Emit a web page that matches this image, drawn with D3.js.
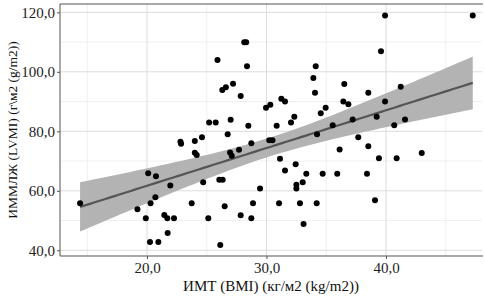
<!DOCTYPE html>
<html><head><meta charset="utf-8">
<script src="https://cdn.jsdelivr.net/npm/d3@7"></script>
<style>body{margin:0;background:#fff}svg{display:block}</style>
</head><body><svg id="c" width="485" height="297"></svg>
<script>
const bmi = [14.4,19.2,19.9,20.1,20.3,20.25,20.7,20.75,20.95,21.45,21.7,21.73,21.95,22.26,22.8,22.85,23.74,24.0,24.0,24.16,
24.6,24.7,25.13,25.2,25.75,25.9,26.05,26.13,26.3,26.33,26.5,26.6,26.75,26.95,27.0,27.09,27.2,27.7,27.84,27.84,
28.14,28.3,28.37,28.48,28.73,28.73,28.87,29.46,29.96,30.23,30.32,30.5,30.85,31.05,31.13,31.24,31.55,31.55,32.05,32.33,
32.44,32.5,32.5,32.8,33.03,33.1,33.33,33.92,34.06,34.12,34.2,34.23,34.54,34.7,34.95,35.54,35.92,36.12,36.43,36.51,
36.85,37.21,37.68,38.41,38.52,38.52,39.08,39.22,39.41,39.58,39.92,39.92,40.69,40.89,41.23,41.59,42.99,47.26];
const lvmi = [55.8,53.8,50.8,65.9,55.8,42.8,57.8,64.9,42.8,51.9,50.8,45.8,61.8,50.8,76.5,75.8,55.8,76.7,72.8,72.0,
78.0,62.9,50.8,83.0,83.0,104.0,63.7,41.8,93.9,63.7,54.8,94.8,79.0,72.9,83.9,71.8,96.0,73.8,91.9,51.8,
109.9,109.9,101.9,81.9,76.0,50.8,55.8,60.8,87.9,77.0,88.9,77.0,81.9,55.8,70.8,90.9,90.0,66.8,83.0,84.9,
68.9,62.0,60.8,55.8,62.9,48.8,65.7,97.9,93.0,101.9,55.8,79.0,86.1,65.7,87.9,82.0,65.7,73.9,90.0,95.9,
89.1,84.0,78.0,65.7,93.0,75.0,56.8,84.9,70.9,106.9,118.9,90.0,82.0,70.9,95.0,84.0,72.7,118.9];
const xTicks = [20,30,40];
const yTicks = [40,60,80,100,120];
const xMinor = [15,25,35,45];
const yMinor = [50,70,90,110];
const xTitle = "ИМТ (BMI) (кг/м2 (kg/m2))";
const yTitle = "ИММЛЖ (LVMI) (г\\м2 (g/m2))";

const L=60, R=482, T=4, B=256;
const x = d3.scaleLinear().domain([20,40]).range([147,386]);
const y = d3.scaleLinear().domain([40,120]).range([250.3,12.3]);
const svg = d3.select("#c");
const fmt = d => d.toFixed(1).replace(".", ",");
const font = "'Liberation Serif','Times New Roman',serif";

// grid
const g = svg.append("g");
g.selectAll(".xm").data(xMinor).join("line").attr("x1",d=>x(d)).attr("x2",d=>x(d)).attr("y1",T).attr("y2",B).attr("stroke","#f0f0f0");
g.selectAll(".ym").data(yMinor).join("line").attr("y1",d=>y(d)).attr("y2",d=>y(d)).attr("x1",L).attr("x2",R).attr("stroke","#f0f0f0");
g.selectAll(".xM").data(xTicks).join("line").attr("x1",d=>x(d)).attr("x2",d=>x(d)).attr("y1",T).attr("y2",B).attr("stroke","#dcdcdc");
g.selectAll(".yM").data(yTicks).join("line").attr("y1",d=>y(d)).attr("y2",d=>y(d)).attr("x1",L).attr("x2",R).attr("stroke","#dcdcdc");

// regression + CI
const n = bmi.length, xb = d3.mean(bmi), yb = d3.mean(lvmi);
let sxx=0, sxy=0;
for (let i=0;i<n;i++){ sxx+=(bmi[i]-xb)**2; sxy+=(bmi[i]-xb)*(lvmi[i]-yb); }
const b = sxy/sxx, a = yb - b*xb;
let sse=0; for (let i=0;i<n;i++) sse += (lvmi[i]-a-b*bmi[i])**2;
const s = Math.sqrt(sse/(n-2)), tq = 1.985;
const [x0,x1] = d3.extent(bmi);
const grid = d3.range(0,81).map(i=>x0+(x1-x0)*i/80);
const band = grid.map(v=>{const f=a+b*v, se=s*Math.sqrt(1/n+(v-xb)**2/sxx); return {v, lo:f-tq*se, hi:f+tq*se, f};});
svg.append("path").datum(band).attr("fill","#b3b3b3")
  .attr("d", d3.area().x(d=>x(d.v)).y0(d=>y(d.lo)).y1(d=>y(d.hi)));
svg.append("path").datum(band).attr("fill","none").attr("stroke","#555").attr("stroke-width",2.2)
  .attr("d", d3.line().x(d=>x(d.v)).y(d=>y(d.f)));

// points
svg.selectAll("circle").data(bmi.map((v,i)=>[v,lvmi[i]])).join("circle")
  .attr("cx",d=>x(d[0])).attr("cy",d=>y(d[1])).attr("r",3).attr("fill","#000");

// frame
svg.append("line").attr("x1",L).attr("x2",R+1).attr("y1",T).attr("y2",T).attr("stroke","#555");
svg.append("line").attr("x1",L).attr("x2",R+1).attr("y1",B).attr("y2",B).attr("stroke","#555");
svg.append("line").attr("x1",L).attr("x2",L).attr("y1",T).attr("y2",B).attr("stroke","#555");

// axes
const ya = svg.append("g").attr("transform",`translate(${L},0)`).call(d3.axisLeft(y).tickValues(yTicks).tickFormat(fmt).tickSize(3).tickPadding(2));
const xa = svg.append("g").attr("transform",`translate(0,${B})`).call(d3.axisBottom(x).tickValues(xTicks).tickFormat(fmt).tickSize(3).tickPadding(3));
[ya,xa].forEach(ax=>{ax.select(".domain").remove(); ax.selectAll("line").attr("stroke","#555");
  ax.selectAll("text").attr("font-family",font).attr("font-size",15).attr("fill","#222");});

svg.append("text").attr("x",(L+R)/2).attr("y",291).attr("text-anchor","middle")
  .attr("font-family",font).attr("font-size",15).attr("fill","#111").text(xTitle);
svg.append("text").attr("transform",`translate(17,${(T+B)/2}) rotate(-90)`).attr("text-anchor","middle")
  .attr("font-family",font).attr("font-size",13.5).attr("fill","#111").text(yTitle);
</script></body></html>
